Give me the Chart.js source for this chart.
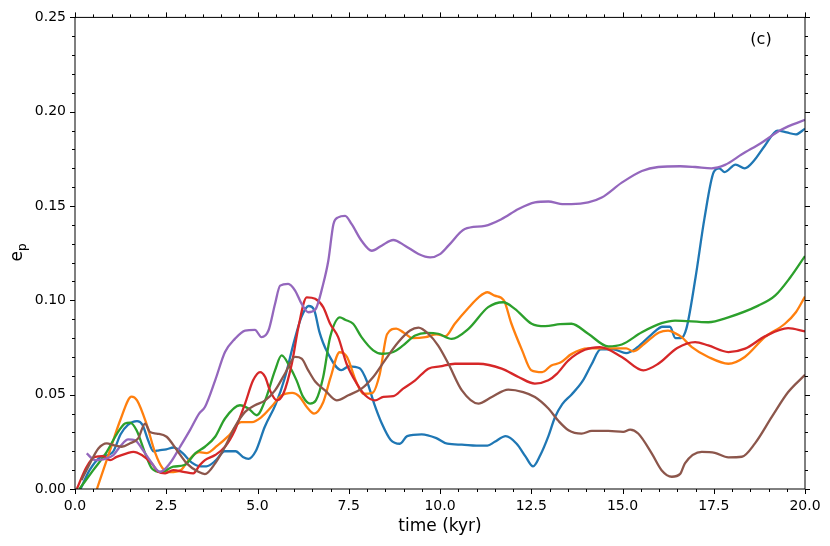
<!DOCTYPE html>
<html>
<head>
<meta charset="utf-8">
<script src="https://cdn.jsdelivr.net/npm/chart.js@4"></script>
<style>
  body { margin: 0; background: #fff; }
  #wrap { width: 830px; height: 546px; }
</style>
</head>
<body>
<div id="wrap"><canvas id="myChart"></canvas></div>
<script>
// [time (kyr), e_p]
const blue = [[0.15,0],[0.4,0.010],[0.7,0.017],[0.9,0.018],[1.05,0.020],[1.25,0.029],[1.45,0.034],[1.7,0.036],[1.85,0.034],[2.0,0.026],[2.15,0.020],[2.3,0.0205],[2.5,0.021],[2.7,0.022],[2.95,0.019],[3.2,0.014],[3.45,0.012],[3.6,0.012],[3.85,0.015],[4.1,0.020],[4.4,0.020],[4.6,0.017],[4.75,0.016],[4.95,0.020],[5.2,0.033],[5.5,0.045],[5.75,0.059],[6.0,0.078],[6.2,0.091],[6.4,0.097],[6.55,0.095],[6.7,0.083],[6.9,0.073],[7.3,0.063],[7.5,0.065],[7.8,0.064],[8.0,0.057],[8.2,0.045],[8.4,0.035],[8.65,0.026],[8.9,0.024],[9.1,0.028],[9.5,0.029],[9.9,0.027],[10.2,0.024],[10.6,0.0235],[11.0,0.023],[11.3,0.023],[11.5,0.025],[11.8,0.028],[12.1,0.024],[12.35,0.017],[12.55,0.012],[12.75,0.018],[12.97,0.028],[13.15,0.038],[13.35,0.045],[13.6,0.050],[13.9,0.057],[14.15,0.066],[14.4,0.074],[14.75,0.074],[15.1,0.072],[15.4,0.075],[15.8,0.082],[16.1,0.086],[16.3,0.086],[16.45,0.080],[16.6,0.080],[16.75,0.085],[17.0,0.112],[17.25,0.144],[17.5,0.168],[17.65,0.170],[17.8,0.168],[18.1,0.172],[18.35,0.170],[18.6,0.174],[18.9,0.182],[19.25,0.190],[19.5,0.189],[19.75,0.188],[20.0,0.191]];
const orange = [[0.6,0],[0.95,0.020],[1.25,0.037],[1.55,0.049],[1.7,0.047],[1.95,0.035],[2.2,0.019],[2.4,0.011],[2.6,0.009],[2.9,0.010],[3.1,0.015],[3.4,0.0195],[3.6,0.019],[3.9,0.023],[4.2,0.028],[4.55,0.0355],[4.85,0.0355],[5.1,0.038],[5.4,0.044],[5.65,0.0495],[5.95,0.051],[6.15,0.049],[6.35,0.0435],[6.55,0.040],[6.8,0.046],[7.0,0.059],[7.25,0.0725],[7.45,0.070],[7.7,0.057],[7.9,0.0505],[8.15,0.051],[8.35,0.061],[8.55,0.082],[8.8,0.085],[9.0,0.083],[9.25,0.080],[9.6,0.0805],[9.9,0.082],[10.15,0.081],[10.4,0.0875],[10.8,0.0965],[11.05,0.1015],[11.3,0.1043],[11.5,0.1025],[11.75,0.100],[11.95,0.088],[12.25,0.0735],[12.5,0.063],[12.8,0.062],[13.05,0.0655],[13.3,0.067],[13.6,0.0715],[14.05,0.0745],[14.5,0.0745],[15.1,0.0745],[15.3,0.073],[15.6,0.077],[16.0,0.083],[16.25,0.084],[16.45,0.0825],[16.62,0.0805],[16.9,0.0752],[17.35,0.070],[17.9,0.0664],[18.35,0.070],[18.9,0.0805],[19.45,0.0876],[19.75,0.0937],[20.0,0.102]];
const green = [[0.12,0],[0.5,0.010],[0.87,0.0197],[1.14,0.029],[1.37,0.0347],[1.51,0.0352],[1.69,0.031],[1.92,0.019],[2.1,0.011],[2.37,0.009],[2.69,0.0118],[3.0,0.0127],[3.3,0.019],[3.56,0.0224],[3.84,0.0277],[4.11,0.0374],[4.52,0.0444],[4.75,0.0427],[4.98,0.0391],[5.21,0.047],[5.48,0.0629],[5.66,0.0708],[5.89,0.0646],[6.07,0.0576],[6.25,0.0488],[6.44,0.0453],[6.6,0.047],[6.8,0.0594],[6.99,0.0805],[7.26,0.091],[7.4,0.0897],[7.62,0.0876],[7.85,0.0805],[8.17,0.0735],[8.4,0.0717],[8.72,0.0726],[8.99,0.0761],[9.32,0.0814],[9.64,0.0828],[9.95,0.0823],[10.32,0.0796],[10.78,0.0849],[11.32,0.0964],[11.73,0.099],[12.05,0.0955],[12.51,0.0876],[12.88,0.0863],[13.29,0.0874],[13.6,0.0876],[14.06,0.0823],[14.61,0.0756],[14.98,0.0766],[15.53,0.0831],[16.07,0.0879],[16.44,0.0893],[17.35,0.0884],[17.9,0.091],[18.72,0.0972],[19.18,0.1025],[19.59,0.112],[20.0,0.1235]];
const red = [[0.05,0],[0.32,0.0118],[0.55,0.017],[0.77,0.0174],[0.96,0.0153],[1.14,0.017],[1.42,0.0189],[1.6,0.0197],[1.83,0.018],[2.1,0.0136],[2.28,0.0091],[2.47,0.0083],[2.69,0.010],[2.97,0.0091],[3.24,0.0083],[3.42,0.0127],[3.56,0.0153],[3.84,0.018],[4.11,0.0224],[4.38,0.0312],[4.66,0.0453],[4.88,0.0576],[5.07,0.062],[5.21,0.0594],[5.34,0.0523],[5.53,0.047],[5.71,0.0506],[5.94,0.0664],[6.12,0.0858],[6.35,0.1016],[6.58,0.1008],[6.8,0.0964],[6.99,0.0876],[7.21,0.0805],[7.44,0.0664],[7.72,0.0559],[7.95,0.0497],[8.22,0.047],[8.45,0.0488],[8.72,0.0492],[8.99,0.0532],[9.32,0.0576],[9.68,0.0638],[10.0,0.065],[10.41,0.0664],[11.05,0.0664],[11.69,0.0638],[12.15,0.0594],[12.6,0.0559],[12.97,0.0576],[13.2,0.061],[13.52,0.0682],[13.97,0.0738],[14.38,0.0752],[14.98,0.070],[15.57,0.0629],[15.98,0.0664],[16.5,0.0748],[16.99,0.0779],[17.35,0.0761],[17.9,0.0726],[18.36,0.0744],[18.9,0.0809],[19.54,0.0853],[20.0,0.0835]];
const purple = [[0.32,0.0189],[0.55,0.0153],[0.77,0.0157],[1.05,0.018],[1.23,0.0224],[1.46,0.0263],[1.64,0.0259],[1.83,0.0215],[2.05,0.0153],[2.33,0.0091],[2.6,0.0136],[2.88,0.0224],[3.15,0.0312],[3.4,0.040],[3.56,0.0435],[3.84,0.0576],[4.11,0.0726],[4.38,0.0796],[4.66,0.084],[4.93,0.0844],[5.11,0.0805],[5.3,0.084],[5.48,0.0981],[5.62,0.1078],[5.84,0.1087],[6.03,0.1052],[6.21,0.0981],[6.39,0.0937],[6.58,0.095],[6.8,0.1087],[6.94,0.121],[7.08,0.1404],[7.21,0.144],[7.4,0.1448],[7.58,0.1404],[7.85,0.1316],[8.13,0.1263],[8.4,0.129],[8.72,0.132],[9.04,0.129],[9.41,0.1246],[9.73,0.1228],[10.0,0.1245],[10.23,0.129],[10.68,0.1378],[11.23,0.1395],[11.69,0.1431],[12.15,0.1484],[12.6,0.1519],[12.97,0.1524],[13.29,0.1512],[13.6,0.151],[14.06,0.1519],[14.43,0.1545],[14.98,0.1624],[15.53,0.1686],[15.98,0.1707],[16.58,0.1711],[16.99,0.1707],[17.44,0.170],[17.81,0.1718],[18.27,0.1774],[18.81,0.1836],[19.36,0.1906],[20.0,0.1957]];
const brown = [[0.18,0.0048],[0.41,0.0136],[0.64,0.0215],[0.87,0.0242],[1.05,0.0233],[1.28,0.0224],[1.51,0.0242],[1.73,0.0268],[1.92,0.0347],[2.05,0.0303],[2.24,0.0294],[2.51,0.0277],[2.79,0.0206],[3.06,0.0136],[3.38,0.0091],[3.56,0.0079],[3.84,0.0136],[4.11,0.0224],[4.38,0.033],[4.66,0.0409],[4.93,0.0444],[5.21,0.047],[5.48,0.0523],[5.75,0.0611],[6.03,0.070],[6.21,0.0691],[6.39,0.0629],[6.58,0.057],[6.85,0.0523],[7.17,0.047],[7.49,0.0497],[7.85,0.0532],[8.17,0.0594],[8.49,0.0682],[8.86,0.0779],[9.18,0.084],[9.41,0.0855],[9.68,0.0823],[9.95,0.076],[10.23,0.0664],[10.6,0.0523],[11.05,0.0453],[11.42,0.0488],[11.87,0.0527],[12.28,0.0514],[12.6,0.0488],[12.97,0.0427],[13.25,0.036],[13.52,0.0312],[13.88,0.0294],[14.16,0.0308],[14.61,0.0308],[15.02,0.0303],[15.21,0.0315],[15.43,0.0294],[15.8,0.0189],[16.07,0.010],[16.35,0.0065],[16.58,0.008],[16.71,0.0136],[17.17,0.0197],[17.53,0.0192],[17.9,0.0168],[18.27,0.0171],[18.63,0.0242],[19.09,0.0382],[19.54,0.0514],[20.0,0.0605]];

const series = [blue, orange, green, red, purple, brown];
const colors = ["#1f77b4", "#ff7f0e", "#2ca02c", "#d62728", "#9467bd", "#8c564b"];

const FONT = "'DejaVu Sans', sans-serif";

// 枠・目盛り・ラベル
const framePlugin = {
  id: "frame",
  afterDraw(chart) {
    const ctx = chart.ctx;
    const a = chart.chartArea;
    const x = chart.scales.x;
    const y = chart.scales.y;
    ctx.save();
    ctx.strokeStyle = "#000";
    ctx.lineWidth = 1;
    ctx.strokeRect(a.left, a.top, a.right - a.left, a.bottom - a.top);

    ctx.beginPath();
    for (let i = 0; i <= 40; i++) {
      const px = Math.round(x.getPixelForValue(i * 0.5)) + 0.5;
      const len = i % 5 === 0 ? 5 : 3;
      ctx.moveTo(px, a.bottom); ctx.lineTo(px, a.bottom + len);
      ctx.moveTo(px, a.top); ctx.lineTo(px, a.top - len);
    }
    for (let i = 0; i <= 25; i++) {
      const py = Math.round(y.getPixelForValue(i * 0.01)) + 0.5;
      const len = i % 5 === 0 ? 5 : 3;
      ctx.moveTo(a.left, py); ctx.lineTo(a.left - len, py);
      ctx.moveTo(a.right, py); ctx.lineTo(a.right + len, py);
    }
    ctx.stroke();

    ctx.fillStyle = "#000";
    ctx.textAlign = "center";
    ctx.textBaseline = "middle";
    ctx.font = "16px " + FONT;
    ctx.fillText("(c)", a.right - 44, a.top + 22);

    ctx.font = "17px " + FONT;
    ctx.fillText("time (kyr)", (a.left + a.right) / 2, 527);

    ctx.translate(18, (a.top + a.bottom) / 2);
    ctx.rotate(-Math.PI / 2);
    ctx.textAlign = "left";
    ctx.font = "17px " + FONT;
    const w = ctx.measureText("e").width;
    ctx.fillText("e", -(w + 6) / 2, 0);
    ctx.font = "12px " + FONT;
    ctx.fillText("p", -(w + 6) / 2 + w, 5);
    ctx.restore();
  }
};

const ctx = document.getElementById("myChart").getContext("2d");
const myChart = new Chart(ctx, {
  type: "line",
  data: {
    datasets: series.map((s, i) => ({
      data: s.map(p => ({ x: p[0], y: p[1] })),
      borderColor: colors[i],
      borderWidth: 2.3,
      pointRadius: 0,
      fill: false,
      cubicInterpolationMode: "monotone",
      order: 5 - i,
    })),
  },
  options: {
    responsive: true,
    maintainAspectRatio: false,
    animation: false,
    layout: { padding: { top: 16, right: 25, left: 0, bottom: 0 } },
    plugins: { legend: { display: false }, tooltip: { enabled: false } },
    scales: {
      x: {
        type: "linear",
        min: 0,
        max: 20,
        grid: { display: false, drawTicks: false },
        border: { display: false },
        ticks: {
          stepSize: 2.5,
          padding: 9,
          color: "#000",
          font: { family: FONT, size: 14 },
          maxRotation: 0,
          callback: v => v.toFixed(1),
        },
        afterFit: s => { s.height = 57; },
      },
      y: {
        min: 0,
        max: 0.25,
        grid: { display: false, drawTicks: false },
        border: { display: false },
        ticks: {
          stepSize: 0.05,
          padding: 9,
          color: "#000",
          font: { family: FONT, size: 14 },
          callback: v => v.toFixed(2),
        },
        afterFit: s => { s.width = 75; },
      },
    },
  },
  plugins: [framePlugin],
});
</script>
</body>
</html>
